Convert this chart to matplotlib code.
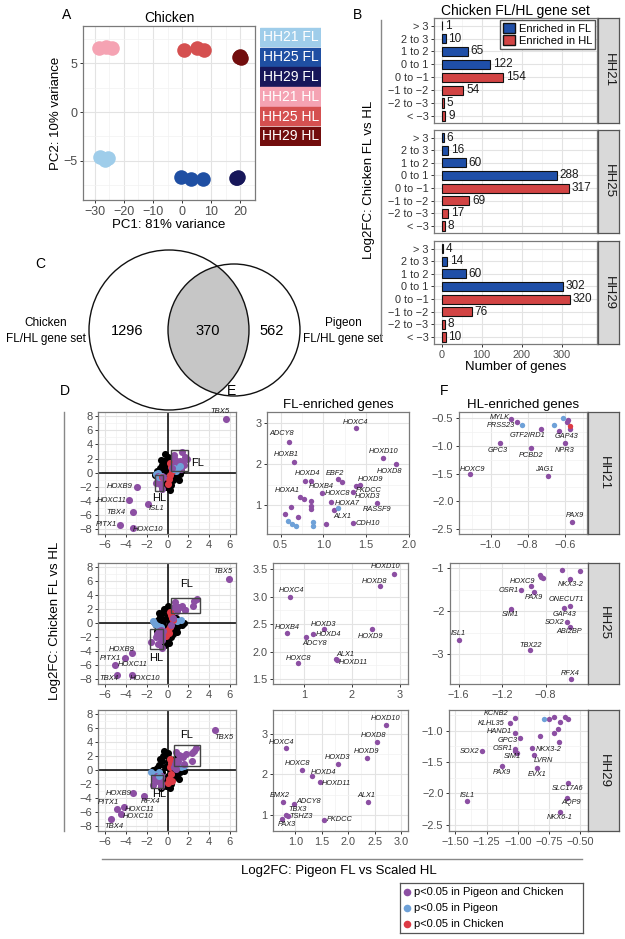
import matplotlib.pyplot as plt
from matplotlib.patches import Circle, Rectangle, Patch
from matplotlib.ticker import MultipleLocator, FuncFormatter

plt.rcParams['font.family'] = ['Liberation Sans', 'DejaVu Sans']

W, H = 625, 939
PUR, BLU, RED = '#8c4fa3', '#6ea1d8', '#dd3a45'
GRID, GRID2, FRAME, TXT = '#e3e3e3', '#f2f2f2', '#7a7a7a', '#4d4d4d'
SIGCOL = {'both': PUR, 'pigeon': BLU, 'chicken': RED}

# ---------------- data ----------------
# A: PCA of chicken samples
pca_groups = ['HH21 FL', 'HH25 FL', 'HH29 FL', 'HH21 HL', 'HH25 HL', 'HH29 HL']
pca_pc1 = [[-28.3, -26.5, -25.5], [-0.5, 3.0, 7.0], [18.5, 19.0, 18.8],
           [-28.5, -26.2, -24.0], [0.5, 5.0, 7.5], [19.5, 20.0, 20.3]]
pca_pc2 = [[-4.6, -4.9, -4.7], [-6.6, -6.9, -6.9], [-6.7, -6.6, -6.8],
           [6.6, 6.7, 6.5], [6.3, 6.5, 6.3], [5.6, 5.7, 5.5]]

# B: number of genes per log2FC bin
bins = ['> 3', '2 to 3', '1 to 2', '0 to 1', '0 to \u22121', '\u22121 to \u22122', '\u22122 to \u22123', '< \u22123']
bin_side = ['FL', 'FL', 'FL', 'FL', 'HL', 'HL', 'HL', 'HL']
stages = ['HH21', 'HH25', 'HH29']
counts_hh21 = [1, 10, 65, 122, 154, 54, 5, 9]
counts_hh25 = [6, 16, 60, 288, 317, 69, 17, 8]
counts_hh29 = [4, 14, 60, 302, 320, 76, 8, 10]

# C: overlap of gene sets
n_chicken_only = 1296
n_shared = 370
n_pigeon_only = 562

# E: FL-enriched genes (pigeon x, chicken y)
e21_gene = ['ADCY8', 'HOXB1', 'HOXC4', 'HOXD10', 'HOXD8', 'HOXD4', 'HOXB4', 'EBF2', '', 'HOXD9', 'PKDCC',
            'HOXD3', 'HOXC8', 'HOXA1', '', 'HOXA7', '', '', '', 'RASSF9', 'ALX1', '', 'CDH10', '', '', '',
            '', '', '', '', '', '']
e21_x = [0.60, 0.66, 1.38, 1.70, 1.85, 0.78, 0.86, 1.17, 1.22, 1.43, 1.38, 1.34, 0.98, 0.72, 0.77, 1.09,
         0.85, 0.86, 0.86, 1.63, 1.12, 1.17, 1.34, 1.03, 0.88, 0.88, 0.62, 0.55, 0.58, 0.63, 0.70, 0.68]
e21_y = [2.55, 2.05, 2.88, 2.15, 2.00, 1.60, 1.60, 1.63, 1.56, 1.49, 1.46, 1.32, 1.30, 1.20, 1.15, 1.07,
         1.10, 0.98, 0.90, 1.05, 0.88, 0.93, 0.56, 0.54, 0.58, 0.49, 0.95, 0.78, 0.62, 0.55, 0.72, 0.50]
e21_sig = ['both'] * 21 + ['pigeon', 'both', 'both', 'pigeon', 'pigeon', 'both', 'both', 'pigeon',
                           'pigeon', 'both', 'pigeon']

e25_gene = ['HOXD10', 'HOXD8', 'HOXC4', 'HOXD3', 'HOXD9', 'HOXB4', 'HOXD4', 'ADCY8', 'ALX1', 'HOXD11', 'HOXC8']
e25_x = [2.88, 2.58, 0.71, 1.41, 2.41, 0.64, 1.18, 1.04, 1.67, 1.69, 0.88]
e25_y = [3.41, 3.19, 3.00, 2.41, 2.41, 2.34, 2.32, 2.26, 1.86, 1.84, 1.79]
e25_sig = ['both'] * 11

e29_gene = ['HOXD10', 'HOXD8', 'HOXC4', 'HOXD9', 'HOXD3', 'HOXC8', 'HOXD4', 'HOXD11', 'EMX2', 'ADCY8',
            'ALX1', 'TBX3', 'TSHZ3', 'PAX3', 'PKDCC']
e29_x = [2.72, 2.55, 0.83, 2.36, 1.80, 1.13, 1.32, 1.46, 0.77, 0.98, 2.38, 0.83, 0.87, 0.75, 1.55]
e29_y = [3.22, 2.80, 2.65, 2.41, 2.26, 2.11, 1.96, 1.81, 1.32, 1.27, 1.32, 1.00, 0.98, 0.90, 0.88]
e29_sig = ['both'] * 15

# F: HL-enriched genes
f21_gene = ['MYLK', 'PRSS23', '', 'GTF2IRD1', '', 'GAP43', '', '', '', '', '', 'NPR3', 'GPC3', 'PCBD2',
            'HOXC9', 'JAG1', 'PAX9']
f21_x = [-0.89, -0.86, -0.83, -0.73, -0.66, -0.63, -0.61, -0.59, -0.58, -0.57, -0.57, -0.60, -0.95, -0.78,
         -1.11, -0.69, -0.56]
f21_y = [-0.52, -0.57, -0.62, -0.70, -0.62, -0.74, -0.50, -0.57, -0.54, -0.65, -0.70, -0.95, -0.95, -1.04,
         -1.51, -1.54, -2.37]
f21_sig = ['both', 'both', 'pigeon', 'both', 'pigeon', 'both', 'pigeon', 'both', 'both', 'chicken', 'both',
           'both', 'both', 'both', 'both', 'both', 'both']

f25_gene = ['', '', '', '', '', 'NKX3-2', 'HOXC9', 'OSR1', 'PAX9', 'ONECUT1', 'GAP43', 'SIM1', 'SOX2',
            'ABI2BP', 'ISL1', 'TBX22', 'RFX4']
f25_x = [-0.65, -0.48, -0.85, -0.84, -0.82, -0.58, -0.93, -1.03, -0.91, -0.58, -0.63, -1.12, -0.60, -0.58,
         -1.60, -0.94, -0.57]
f25_y = [-1.05, -1.07, -1.16, -1.21, -1.23, -1.26, -1.42, -1.51, -1.56, -1.88, -1.93, -1.95, -2.26, -2.37,
         -2.67, -2.91, -3.58]
f25_sig = ['both'] * 17

f29_gene = ['KCNB2', 'KLHL35', 'HAND1', 'GPC3', 'OSR1', '', 'SIM1', 'SOX2', 'PAX9', 'NKX3-2', 'LVRN', 'EVX1',
            '', '', '', '', '', '', '', '', '', '', 'SLC17A6', 'AQP9', 'ISL1', 'NKX6-1']
f29_x = [-1.02, -1.06, -1.02, -0.98, -1.02, -1.02, -1.01, -1.29, -1.13, -0.89, -0.87, -0.85, -0.79, -0.75,
         -0.71, -0.66, -0.62, -0.60, -0.68, -0.71, -0.82, -0.67, -0.60, -0.61, -1.41, -0.66]
f29_y = [-0.79, -0.87, -1.03, -1.11, -1.29, -1.33, -1.35, -1.33, -1.57, -1.27, -1.38, -1.60, -0.82, -0.82,
         -0.78, -0.86, -0.78, -0.81, -0.97, -1.03, -1.09, -1.18, -1.83, -2.07, -2.12, -2.29]
f29_sig = ['both'] * 12 + ['pigeon'] + ['both'] * 13

# D: all genes, extra points outside the E/F windows
d21_black_x = [-1.0, -0.8, -0.7, -0.6, -0.5, -0.4, -0.3, -0.3, -0.2, -0.1, 0.0, 0.0, 0.0, 0.1, 0.1, 0.2, 0.3,
               0.3, 0.4, 0.5, 0.5, 0.6, 0.7, 0.8, 0.9, 1.0, 1.2, 1.3, -0.9, -0.5, -0.2, 0.2, -1.2, 0.7, -0.6, 1.1]
d21_black_y = [0.2, -0.4, 0.6, -1.0, 1.1, -0.1, 1.7, -1.5, 0.4, -2.0, 2.2, 1.0, -0.7, 1.6, -1.2, 0.2, -1.7,
               0.9, -0.4, 1.3, -1.0, 0.4, -0.3, 0.9, -0.6, 0.1, -0.2, 0.3, -1.3, -2.2, 2.6, -2.4, -0.4, 1.6, 1.8, -1.0]
d21_red_x = [0.2, 0.3, 0.1, 0.0, 0.4, 0.2]
d21_red_y = [1.4, 0.8, -0.9, -1.6, 0.3, -0.3]
d21_blue_x = [-0.9, -0.7, 0.8, 1.1, -1.1]
d21_blue_y = [0.0, -0.5, 0.2, 0.5, -0.2]
d21_out_gene = ['TBX5', 'HOXB9', 'HOXC11', 'ISL1', 'TBX4', 'HOXC10', 'PITX1', '', '']
d21_out_x = [5.6, -2.9, -3.7, -1.9, -3.3, -3.3, -4.6, 0.4, -0.4]
d21_out_y = [7.6, -2.0, -3.9, -4.4, -5.6, -7.9, -7.4, 0.6, -0.6]

d25_black_x = [-1.3, -1.1, -0.9, -0.8, -0.7, -0.6, -0.5, -0.4, -0.3, -0.3, -0.2, -0.1, 0.0, 0.0, 0.0, 0.1, 0.1,
               0.2, 0.2, 0.3, 0.4, 0.4, 0.5, 0.6, 0.6, 0.7, 0.8, 0.9, 1.0, 1.1, 1.2, 1.4, 1.6, -0.5, -0.2, -1.0,
               -0.8, 0.3, -0.6, 0.9]
d25_black_y = [0.2, -0.3, 0.5, -0.8, 0.9, -1.3, 1.4, -0.2, 2.0, -1.8, 0.6, -2.4, 2.4, 1.2, -0.6, -2.8, 1.8,
               -1.2, 0.2, -2.0, 1.0, -0.4, -1.5, 0.5, -0.9, -0.2, 0.8, -0.6, 0.2, -0.3, 0.1, -0.2, 0.0, -2.6, -3.1,
               -1.1, 1.5, 2.2, 0.1, -1.2]
d25_red_x = [0.2, 0.4, 0.3, 0.0, -0.1, 0.1, 0.5, 0.2]
d25_red_y = [1.6, 0.8, 1.2, -1.0, -1.8, -1.4, 0.4, -0.5]
d25_blue_x = [-1.2, -0.9, -0.6, 0.9, 1.3, -1.4]
d25_blue_y = [-0.1, -0.4, -0.6, 0.3, 0.4, 0.3]
d25_out_gene = ['TBX5', 'HOXB9', 'PITX1', 'HOXC11', 'TBX4', 'HOXC10', '', '']
d25_out_x = [5.9, -3.4, -4.1, -5.1, -4.9, -3.4, 0.5, 0.3]
d25_out_y = [6.3, -4.3, -5.0, -6.0, -7.4, -7.4, 0.7, -0.3]

d29_black_x = [-1.0, -0.9, -0.8, -0.7, -0.5, -0.5, -0.4, -0.3, -0.2, -0.1, 0.0, 0.0, 0.0, 0.1, 0.1, 0.2, 0.3,
               0.3, 0.4, 0.5, 0.5, 0.6, 0.7, 0.8, 0.9, 1.0, 1.2, 1.4, 1.6, -1.2, -0.6, -0.3, 0.2, 0.8, -0.7, 1.1,
               -1.4]
d29_black_y = [0.3, -0.5, 0.8, -1.1, 1.3, -0.2, 2.0, -1.6, 0.5, -2.2, 2.5, 1.1, -0.8, 1.8, -1.3, 0.2, -2.0,
               1.0, -0.5, 1.5, -1.1, 0.4, -0.4, 0.9, -0.8, 0.2, -0.3, 0.2, -0.1, -0.9, -2.6, 2.8, -2.6, 1.8, 1.6,
               -1.3, 0.0]
d29_red_x = [0.3, 0.2, 0.3, 0.1, 0.0, 0.4, 0.2]
d29_red_y = [1.0, 0.4, -0.5, -1.2, -1.9, -1.5, 1.6]
d29_blue_x = [-1.6, -1.3, -0.8, 1.3, 1.6, 0.9]
d29_blue_y = [-0.3, -0.6, -0.2, 0.5, 0.6, 0.7]
d29_out_gene = ['TBX5', 'HOXB9', 'RFX4', 'HOXC11', 'PITX1', 'HOXC10', 'TBX4', '', '']
d29_out_x = [4.6, -3.3, -2.3, -4.2, -4.9, -4.5, -5.4, 0.6, 0.8]
d29_out_y = [5.7, -3.3, -3.7, -5.3, -5.5, -6.2, -7.0, 0.5, 0.1]

# ---------------- layout helpers ----------------
fig = plt.figure(figsize=(W / 100, H / 100), dpi=100)


def box(l, t, r, b):
    return [l / W, 1 - b / H, (r - l) / W, (b - t) / H]


def gg(ax, fs=7.5):
    ax.set_facecolor('white')
    for sp in ax.spines.values():
        sp.set_color(FRAME)
        sp.set_linewidth(0.9)
    ax.grid(True, which='major', color=GRID, lw=0.8)
    ax.grid(True, which='minor', color=GRID2, lw=0.5)
    ax.set_axisbelow(True)
    ax.tick_params(which='major', length=2.5, width=0.7, color='#333333', labelsize=fs,
                   labelcolor=TXT, pad=1.5)
    ax.tick_params(which='minor', length=0)


def ticks(ax, xs, ys, xfmt=None, yfmt=None):
    ax.xaxis.set_major_locator(MultipleLocator(xs))
    ax.xaxis.set_minor_locator(MultipleLocator(xs / 2))
    ax.yaxis.set_major_locator(MultipleLocator(ys))
    ax.yaxis.set_minor_locator(MultipleLocator(ys / 2))
    if xfmt:
        ax.xaxis.set_major_formatter(FuncFormatter(lambda v, p: (xfmt % v).replace('-', '\u2212')))
    if yfmt:
        ax.yaxis.set_major_formatter(FuncFormatter(lambda v, p: (yfmt % v).replace('-', '\u2212')))


def strip(t, b, label, l=588, r=619):
    s = fig.add_axes(box(l, t, r, b))
    s.set_facecolor('#d9d9d9')
    s.set_xticks([])
    s.set_yticks([])
    for sp in s.spines.values():
        sp.set_color('#555555')
        sp.set_linewidth(0.9)
    s.text(0.5, 0.5, label, rotation=-90, ha='center', va='center', fontsize=9.5,
           color='#1a1a1a', transform=s.transAxes)


def labels(ax, genes, xs, ys, offs, fs=5.3):
    for g, x, y in zip(genes, xs, ys):
        if g:
            dx, dy = offs.get(g, (0, -6))
            ax.annotate(g, (x, y), xytext=(dx, -dy), textcoords='offset pixels', ha='center',
                        va='center', fontsize=fs, style='italic', color='#1a1a1a')


def scatter_sig(ax, xs, ys, sig, s):
    for key in ['both', 'pigeon', 'chicken']:
        px = [x for x, k in zip(xs, sig) if k == key]
        py = [y for y, k in zip(ys, sig) if k == key]
        ax.scatter(px, py, s=s, color=SIGCOL[key], lw=0, zorder=3)


# ---------------- A ----------------
pca_colors = ['#9fcdea', '#1f4fa3', '#17175a', '#f5a3b3', '#d55050', '#720d0d']
ax = fig.add_axes(box(83, 26, 255, 200))
gg(ax, 9)
for pc1, pc2, c in zip(pca_pc1, pca_pc2, pca_colors):
    ax.scatter(pc1, pc2, s=110, color=c, lw=0, zorder=3)
ax.set_xlim(-34, 25)
ax.set_ylim(-9, 8.8)
ticks(ax, 10, 5)
ax.set_title('Chicken', fontsize=10, pad=3)
ax.set_xlabel('PC1: 81% variance', fontsize=9.5, labelpad=1)
ax.set_ylabel('PC2: 10% variance', fontsize=9.5, labelpad=1)
lg = fig.add_axes(box(260, 27, 321, 146))
lg.set_xlim(0, 1)
lg.set_ylim(6, 0)
lg.axis('off')
for i, (g, c) in enumerate(zip(pca_groups, pca_colors)):
    lg.add_patch(Rectangle((0, i + 0.04), 1, 0.92, color=c))
    lg.text(0.5, i + 0.52, g, color='white', ha='center', va='center', fontsize=10)
fig.text(67 / W, 1 - 15 / H, 'A', fontsize=10, ha='center', va='center')

# ---------------- B ----------------
FLB, HLR = '#1f4fa8', '#d24444'
b_rows = [(18, 123), (130, 233), (241, 344)]
for k, (st, cnt, (t, b)) in enumerate(zip(stages, [counts_hh21, counts_hh25, counts_hh29], b_rows)):
    ax = fig.add_axes(box(434, t, 597, b))
    gg(ax, 7.8)
    ypos = list(range(len(bins)))
    cols = [FLB if s == 'FL' else HLR for s in bin_side]
    ax.barh(ypos, cnt, height=0.72, color=cols, edgecolor='#111111', lw=0.8, zorder=3)
    for y, v in zip(ypos, cnt):
        ax.text(v + 7, y, str(v), va='center', ha='left', fontsize=8.5, color='#1a1a1a', zorder=4)
    ax.set_yticks(ypos)
    ax.set_yticklabels(bins)
    ax.set_ylim(7.55, -0.6)
    ax.set_xlim(-19, 388)
    ax.xaxis.set_major_locator(MultipleLocator(100))
    ax.xaxis.set_minor_locator(MultipleLocator(50))
    ax.tick_params(axis='y', labelcolor='#333333')
    if k < 2:
        ax.tick_params(axis='x', labelbottom=False, length=0)
    else:
        ax.set_xlabel('Number of genes', fontsize=9.5, labelpad=1)
    if k == 0:
        ax.legend(handles=[Patch(fc=FLB, ec='#111111', label='Enriched in FL'),
                           Patch(fc=HLR, ec='#111111', label='Enriched in HL')],
                  loc='upper right', fontsize=8, frameon=True, fancybox=False, edgecolor='#555555',
                  framealpha=1, borderpad=0.25, handlelength=1.1, handleheight=1.0, labelspacing=0.15,
                  borderaxespad=0.2, handletextpad=0.3)
    strip(t, b, st, l=598, r=619)
fig.text(515 / W, 1 - 11 / H, 'Chicken FL/HL gene set', fontsize=10, ha='center', va='center')
fig.text(358 / W, 1 - 15 / H, 'B', fontsize=10, ha='center', va='center')
fig.text(369 / W, 1 - 180 / H, 'Log2FC: Chicken FL vs HL', fontsize=9.5, rotation=90,
         ha='center', va='center')
fig.add_artist(plt.Line2D([381 / W, 381 / W], [1 - 20 / H, 1 - 337 / H], color='#888888', lw=1))

# ---------------- C ----------------
ax = fig.add_axes(box(0, 240, 360, 420))
ax.set_xlim(0, 360)
ax.set_ylim(420, 240)
ax.axis('off')
clip = Circle((169, 330), 80, transform=ax.transData)
shade = Circle((234, 330), 66, fc='#c6c6c6', ec='none')
ax.add_patch(shade)
shade.set_clip_path(clip)
ax.add_patch(Circle((169, 330), 80, fc='none', ec='#111111', lw=1))
ax.add_patch(Circle((234, 330), 66, fc='none', ec='#111111', lw=1))
ax.text(127, 331, str(n_chicken_only), ha='center', va='center', fontsize=10.5)
ax.text(208, 331, str(n_shared), ha='center', va='center', fontsize=10.5)
ax.text(272, 331, str(n_pigeon_only), ha='center', va='center', fontsize=10.5)
ax.text(86, 331, 'Chicken\nFL/HL gene set', ha='right', va='center', fontsize=8.5, multialignment='center',
        linespacing=1.35)
ax.text(303, 331, 'Pigeon\nFL/HL gene set', ha='left', va='center', fontsize=8.5, multialignment='center',
        linespacing=1.35)
ax.text(40, 264, 'C', fontsize=10, ha='center', va='center')

# ---------------- D / E / F ----------------
rows = [(412, 534), (563, 684), (710, 831)]
e_lims = [((0.34, 2.0), (0.3, 3.27)), ((0.35, 3.17), (1.41, 3.61)), ((0.58, 3.13), (0.6, 3.59))]
f_lims = [((-1.17, -0.48), (-2.59, -0.39)), ((-1.68, -0.41), (-3.7, -0.88)), ((-1.55, -0.44), (-2.6, -0.67))]
e_boxes = [(267, 409), (273, 408), (273, 408)]
f_boxes = [(459, 587), (450, 588), (449, 588)]

e_data = [(e21_gene, e21_x, e21_y, e21_sig), (e25_gene, e25_x, e25_y, e25_sig), (e29_gene, e29_x, e29_y, e29_sig)]
f_data = [(f21_gene, f21_x, f21_y, f21_sig), (f25_gene, f25_x, f25_y, f25_sig), (f29_gene, f29_x, f29_y, f29_sig)]
d_data = [(d21_black_x, d21_black_y, d21_red_x, d21_red_y, d21_blue_x, d21_blue_y, d21_out_gene, d21_out_x, d21_out_y),
          (d25_black_x, d25_black_y, d25_red_x, d25_red_y, d25_blue_x, d25_blue_y, d25_out_gene, d25_out_x, d25_out_y),
          (d29_black_x, d29_black_y, d29_red_x, d29_red_y, d29_blue_x, d29_blue_y, d29_out_gene, d29_out_x, d29_out_y)]

e_offs = [
    {'HOXC4': (0, -6), 'HOXD10': (0, -7), 'HOXD8': (-7, 7), 'EBF2': (-3, -6), 'HOXD9': (10, -6),
     'PKDCC': (13, 4), 'HOXD3': (15, 4), 'HOXC8': (16, 1), 'HOXB4': (10, 6), 'HOXA7': (16, 1), 'ALX1': (9, 6),
     'RASSF9': (0, 6), 'CDH10': (15, 0), 'HOXD4': (3, -7), 'HOXA1': (-12, -7), 'HOXB1': (-8, -8),
     'ADCY8': (-8, -8)},
    {'HOXD10': (-9, -7), 'HOXD8': (-5, -5), 'HOXC4': (1, -6), 'HOXD3': (0, -5), 'HOXD9': (-1, 7),
     'HOXB4': (0, -5), 'HOXD4': (16, 1), 'ADCY8': (9, 6), 'ALX1': (9, -5), 'HOXD11': (16, 2), 'HOXC8': (0, -5)},
    {'HOXD10': (-1, -6), 'HOXD8': (-4, -6), 'HOXC4': (-5, -6), 'HOXD9': (-1, -6), 'HOXD3': (0, -6),
     'HOXC8': (-5, -6), 'HOXD4': (11, -3), 'HOXD11': (17, 1), 'EMX2': (-3, -6), 'ADCY8': (14, -2),
     'ALX1': (-2, -6), 'TBX3': (11, -5), 'TSHZ3': (13, 1), 'PAX3': (5, 6), 'PKDCC': (15, 0)}]
f_offs = [
    {'MYLK': (-11, -2), 'PRSS23': (-16, 4), 'GTF2IRD1': (-13, 6), 'GAP43': (7, 5), 'GPC3': (-2, 7),
     'PCBD2': (0, 7), 'NPR3': (0, 7), 'HOXC9': (2, -5), 'JAG1': (-4, -6), 'PAX9': (3, -6)},
    {'HOXC9': (-9, -5), 'OSR1': (-12, 0), 'PAX9': (0, 5), 'NKX3-2': (1, 5), 'ONECUT1': (-3, -6),
     'GAP43': (0, 6), 'SIM1': (0, 6), 'SOX2': (-13, 0), 'ABI2BP': (0, 5), 'ISL1': (0, -6), 'TBX22': (0, -5),
     'RFX4': (0, -5)},
    {'KCNB2': (-19, -4), 'KLHL35': (-19, 1), 'HAND1': (-16, -1), 'GPC3': (-13, 3), 'OSR1': (-13, 0),
     'SIM1': (-4, 4), 'SOX2': (-12, 0), 'PAX9': (0, 6), 'NKX3-2': (17, 2), 'LVRN': (9, 6), 'EVX1': (0, 6),
     'SLC17A6': (0, 6), 'AQP9': (4, 5), 'ISL1': (1, -5), 'NKX6-1': (-1, 6)}]
d_offs = [
    {'TBX5': (-6, -8), 'HOXB9': (-18, 0), 'HOXC11': (-17, 0), 'ISL1': (9, 5), 'TBX4': (-17, 0),
     'HOXC10': (15, 1), 'PITX1': (-13, 0)},
    {'TBX5': (-6, -8), 'HOXB9': (-11, -4), 'PITX1': (-15, 0), 'HOXC11': (18, -1), 'TBX4': (-8, 4),
     'HOXC10': (13, 4)},
    {'TBX5': (9, 7), 'HOXB9': (-15, 0), 'PITX1': (-8, -6), 'RFX4': (7, 5), 'HOXC11': (16, 2),
     'HOXC10': (17, 3), 'TBX4': (2, 7)}]
fl_text = [(2.3, 1.3, 'left'), (1.8, 5.6, 'center'), (1.8, 5.0, 'center')]
hl_text = [(-0.8, -3.6, 'center'), (-1.1, -5.0, 'center'), (-0.8, -3.4, 'center')]

e_ticks = [(0.5, 1, '%.1f', '%d'), (1, 0.5, '%d', '%.1f'), (0.5, 1, '%.1f', '%d')]
f_ticks = [(0.2, 0.5, '%.1f', '%.1f'), (0.4, 1, '%.1f', '%d'), (0.25, 0.5, '%.2f', '%.1f')]

for i, (t, b) in enumerate(rows):
    # D
    ax = fig.add_axes(box(98, t, 236, b))
    gg(ax, 8)
    bx, by, rx, ry, ux, uy, og, ox, oy = d_data[i]
    ax.axhline(0, color='black', lw=1.1, zorder=2)
    ax.axvline(0, color='black', lw=1.1, zorder=2)
    ax.scatter(bx, by, s=26, color='black', lw=0, zorder=3)
    ax.scatter(ux, uy, s=26, color=BLU, lw=0, zorder=3)
    ax.scatter(rx, ry, s=26, color=RED, lw=0, zorder=3)
    for (g, xs, ys, sg) in (e_data[i], f_data[i]):
        scatter_sig(ax, xs, ys, sg, 26)
    ax.scatter(ox, oy, s=26, color=PUR, lw=0, zorder=3)
    labels(ax, og, ox, oy, d_offs[i], fs=5.5)
    (ex0, ex1), (ey0, ey1) = e_lims[i]
    (fx0, fx1), (fy0, fy1) = f_lims[i]
    ax.add_patch(Rectangle((ex0, ey0), ex1 - ex0, ey1 - ey0, fc='none', ec='#444444', lw=1, zorder=4))
    ax.add_patch(Rectangle((fx0, fy0), fx1 - fx0, fy1 - fy0, fc='none', ec='#444444', lw=1, zorder=4))
    ax.text(fl_text[i][0], fl_text[i][1], 'FL', fontsize=8, ha=fl_text[i][2], va='center', zorder=5)
    ax.text(hl_text[i][0], hl_text[i][1], 'HL', fontsize=8, ha=hl_text[i][2], va='center', zorder=5)
    ax.set_xlim(-6.7, 6.6)
    ax.set_ylim(-8.7, 8.6)
    ticks(ax, 2, 2)
    # E
    l, r = e_boxes[i]
    ax = fig.add_axes(box(l, t, r, b))
    gg(ax, 7.8)
    g, xs, ys, sg = e_data[i]
    scatter_sig(ax, xs, ys, sg, 15)
    labels(ax, g, xs, ys, e_offs[i])
    ax.set_xlim(*e_lims[i][0])
    ax.set_ylim(*e_lims[i][1])
    ticks(ax, *e_ticks[i])
    if i == 0:
        ax.set_title('FL-enriched genes', fontsize=9.5, pad=3)
    # F
    l, r = f_boxes[i]
    ax = fig.add_axes(box(l, t, r, b))
    gg(ax, 7.8)
    g, xs, ys, sg = f_data[i]
    scatter_sig(ax, xs, ys, sg, 15)
    labels(ax, g, xs, ys, f_offs[i])
    ax.set_xlim(*f_lims[i][0])
    ax.set_ylim(*f_lims[i][1])
    ticks(ax, *f_ticks[i])
    if i == 0:
        ax.set_title('HL-enriched genes', fontsize=9.5, pad=3)
    strip(t, b, stages[i])

for x, letter in [(65, 'D'), (232, 'E'), (444, 'F')]:
    fig.text(x / W, 1 - 391 / H, letter, fontsize=10, ha='center', va='center')
fig.text(55 / W, 1 - 621 / H, 'Log2FC: Chicken FL vs HL', fontsize=9.5, rotation=90, ha='center', va='center')
fig.add_artist(plt.Line2D([64 / W, 64 / W], [1 - 412 / H, 1 - 831 / H], color='#888888', lw=1))
fig.text(339 / W, 1 - 871 / H, 'Log2FC: Pigeon FL vs Scaled HL', fontsize=9.5, ha='center', va='center')
fig.add_artist(plt.Line2D([102 / W, 582 / W], [1 - 859 / H, 1 - 859 / H], color='#888888', lw=1))

# bottom legend
lg = fig.add_axes(box(400, 883, 583, 933))
lg.set_xlim(0, 183)
lg.set_ylim(50, 0)
lg.set_xticks([])
lg.set_yticks([])
for sp in lg.spines.values():
    sp.set_color('#555555')
    sp.set_linewidth(0.9)
for j, (key, txt) in enumerate([('both', 'p<0.05 in Pigeon and Chicken'), ('pigeon', 'p<0.05 in Pigeon'),
                                ('chicken', 'p<0.05 in Chicken')]):
    lg.scatter([7], [9 + 16 * j], s=30, color=SIGCOL[key], lw=0)
    lg.text(14, 9 + 16 * j, txt, va='center', ha='left', fontsize=8)

fig.savefig('out.png', dpi=100)
